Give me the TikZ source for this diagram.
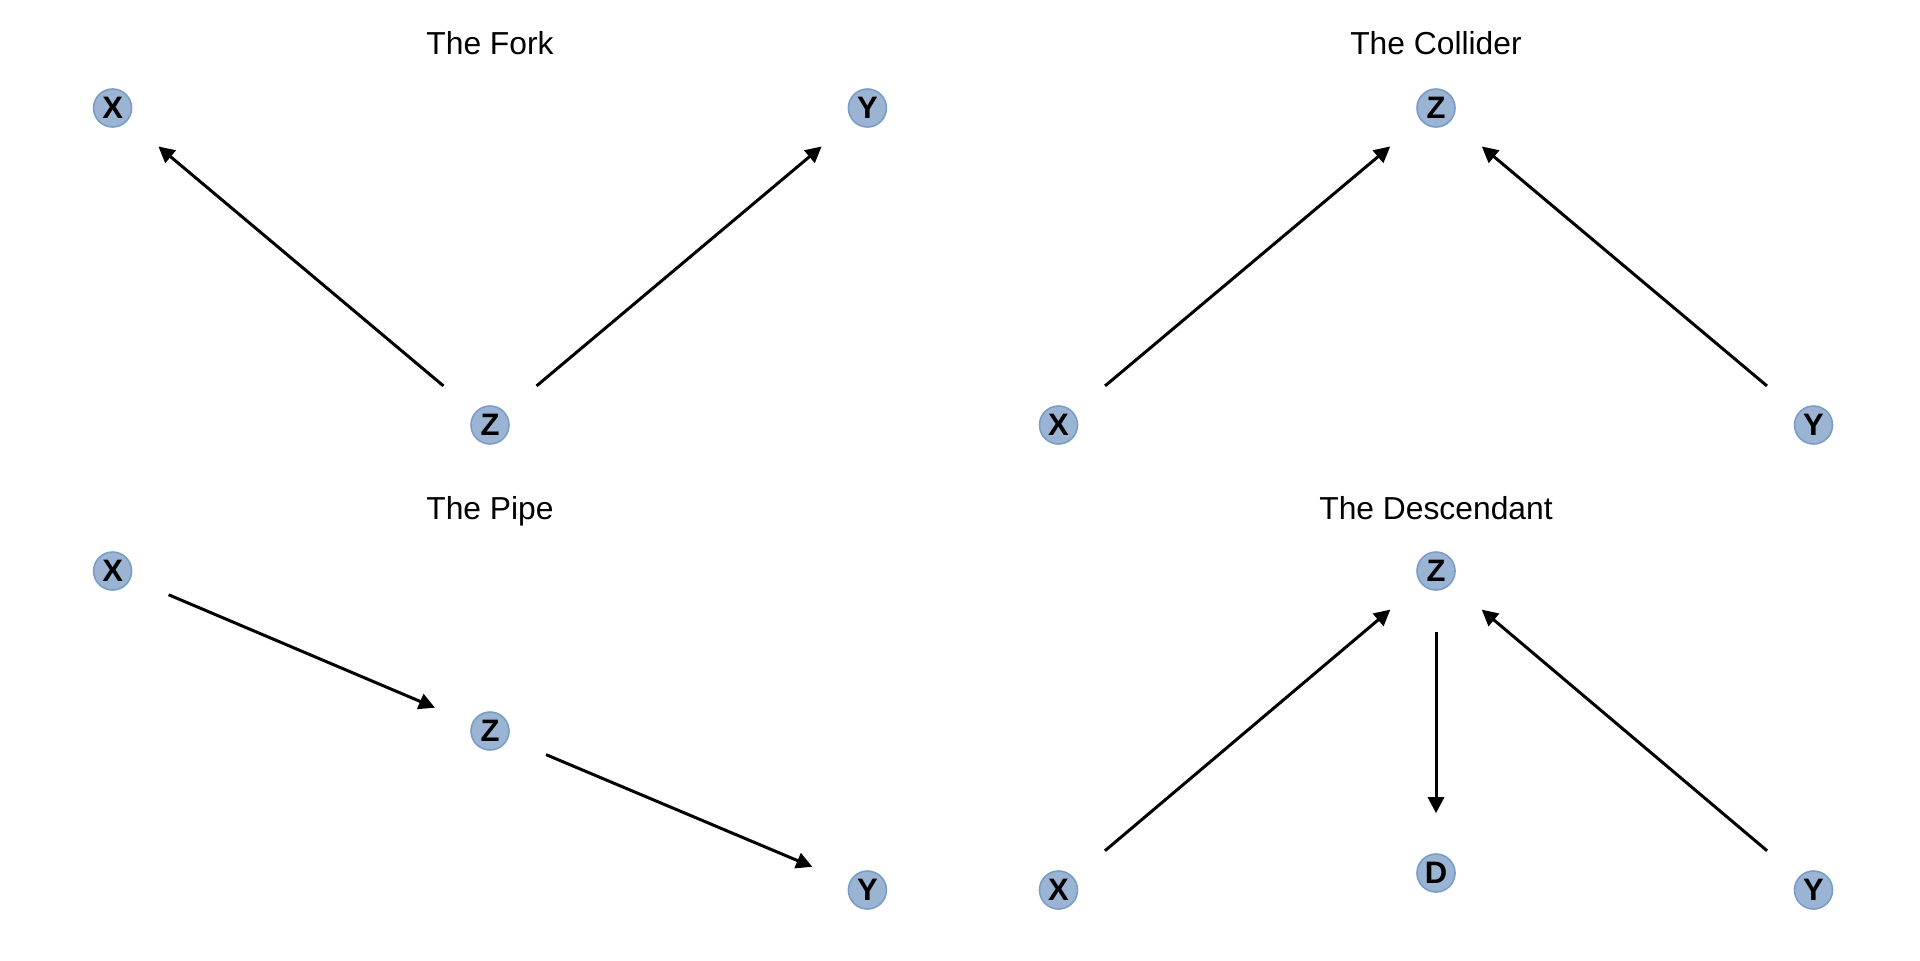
\documentclass[tikz,border=0pt]{standalone}
\usepackage{fontspec}
\setmainfont{Liberation Sans}
\usetikzlibrary{arrows.meta}

\definecolor{nodefill}{RGB}{155,180,212}
\definecolor{nodeline}{RGB}{122,157,200}

\tikzstyle{var} = [circle, fill=nodefill, draw=nodeline, line width=0.8pt, minimum size=19pt, inner sep=0pt, font=\fontsize{15.5}{17}\selectfont\bfseries]
\tikzstyle{title} = [font=\fontsize{15.9}{18}\selectfont, text depth=0.25em]
\tikzstyle{link} = [-{Triangle[length=8pt,width=8pt]}, line width=1.5pt, shorten <=20.5pt, shorten >=20pt]

\begin{document}
\begin{tikzpicture}[x=0.5pt, y=-0.5pt]
  \useasboundingbox (0,0) rectangle (1920,960);
  % the fork
  \node (t1) at (490,45) [title] {The Fork};
  \node (fx) at (112.6,108) [var] {X};
  \node (fy) at (867.4,108) [var] {Y};
  \node (fz) at (490,425) [var] {Z};
  \draw [link] (fz) to (fx);
  \draw [link] (fz) to (fy);
  % the collider
  \node (t2) at (1436,45) [title] {The Collider};
  \node (cz) at (1436,108) [var] {Z};
  \node (cx) at (1058.5,425) [var] {X};
  \node (cy) at (1813.5,425) [var] {Y};
  \draw [link] (cx) to (cz);
  \draw [link] (cy) to (cz);
  % the pipe
  \node (t3) at (490,510) [title] {The Pipe};
  \node (px) at (112.6,571) [var] {X};
  \node (pz) at (490,731) [var] {Z};
  \node (py) at (867.4,890) [var] {Y};
  \draw [link] (px) to (pz);
  \draw [link] (pz) to (py);
  % the descendant
  \node (t4) at (1436,510) [title] {The Descendant};
  \node (dz) at (1436,571) [var] {Z};
  \node (dx) at (1058.5,890) [var] {X};
  \node (dd) at (1436,873) [var] {D};
  \node (dy) at (1813.5,890) [var] {Y};
  \draw [link] (dx) to (dz);
  \draw [link] (dy) to (dz);
  \draw [link] (dz) to (dd);
\end{tikzpicture}
\end{document}
